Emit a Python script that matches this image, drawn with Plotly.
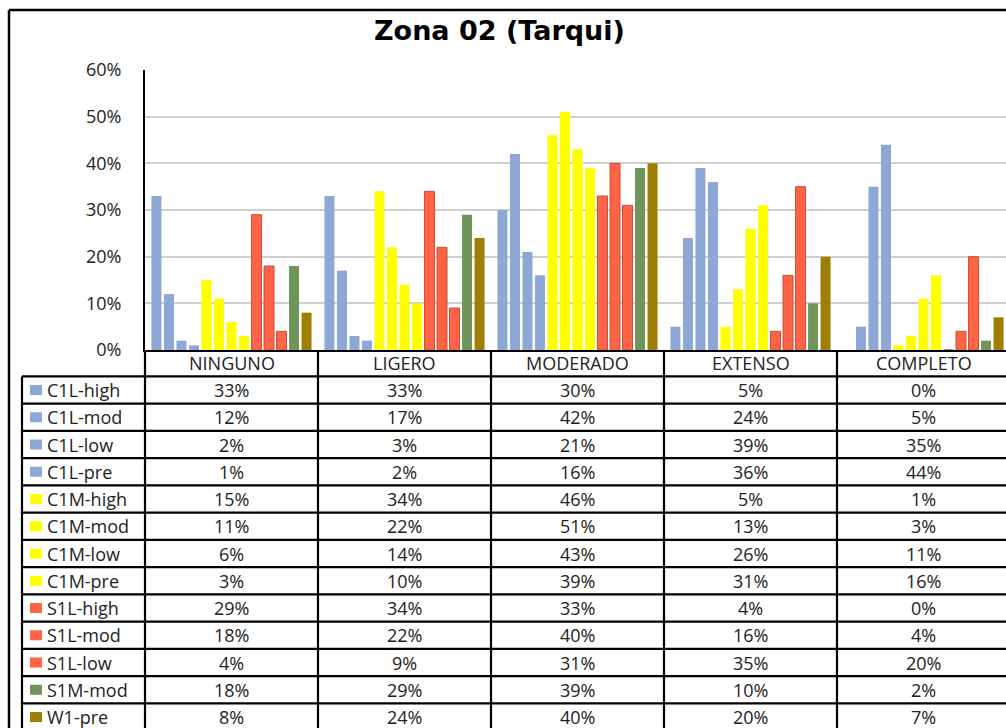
import plotly.graph_objects as go

# ---- data -------------------------------------------------------------
categories = ["NINGUNO", "LIGERO", "MODERADO", "EXTENSO", "COMPLETO"]

c1l_high = [33, 33, 30, 5, 0]
c1l_mod = [12, 17, 42, 24, 5]
c1l_low = [2, 3, 21, 39, 35]
c1l_pre = [1, 2, 16, 36, 44]
c1m_high = [15, 34, 46, 5, 1]
c1m_mod = [11, 22, 51, 13, 3]
c1m_low = [6, 14, 43, 26, 11]
c1m_pre = [3, 10, 39, 31, 16]
s1l_high = [29, 34, 33, 4, 0]
s1l_mod = [18, 22, 40, 16, 4]
s1l_low = [4, 9, 31, 35, 20]
s1m_mod = [18, 29, 39, 10, 2]
w1_pre = [8, 24, 40, 20, 7]

series_names = ["C1L-high", "C1L-mod", "C1L-low", "C1L-pre",
                "C1M-high", "C1M-mod", "C1M-low", "C1M-pre",
                "S1L-high", "S1L-mod", "S1L-low", "S1M-mod", "W1-pre"]
series_values = [c1l_high, c1l_mod, c1l_low, c1l_pre,
                 c1m_high, c1m_mod, c1m_low, c1m_pre,
                 s1l_high, s1l_mod, s1l_low, s1m_mod, w1_pre]

title_text = "Zona 02 (Tarqui)"
y_ticks = [0, 10, 20, 30, 40, 50, 60]

# ---- styling ----------------------------------------------------------
BLUE, YELLOW, RED, GREEN, OLIVE = "#8DA8D4", "#FFFF00", "#FF6446", "#6F955A", "#9E7F00"
family_colors = {"C1L": BLUE, "C1M": YELLOW, "S1L": RED, "S1M": GREEN, "W1": OLIVE}
FONT = "'Open Sans', Lato, sans-serif"
TITLE_FONT = "'DejaVu Sans', 'Open Sans', sans-serif"
TXT = "#222222"
FS = 18

W, H = 1006, 728
AX_LEFT = 145          # y-axis line (px)
PLOT_TOP = 70          # 60% gridline (px)
PLOT_BOTTOM = 350      # 0% baseline (px)
COL_W = 173            # width of one category column (px)
LEG_LEFT = 22          # left edge of the legend column (px)
HEADER_BOTTOM = 376.4
ROW_H = 27.25


def px(x):
    return x / W


def py(y):
    return 1 - y / H


def color_of(name):
    return family_colors[name.split("-")[0]]


fig = go.Figure()
for name, vals in zip(series_names, series_values):
    col = color_of(name)
    fig.add_trace(go.Bar(
        x=categories, y=[v / 100 for v in vals], name=name,
        marker=dict(color=col,
                    line=dict(color="#C9503A" if col == RED else col,
                              width=1 if col == RED else 0)),
        showlegend=False,
    ))

shapes = []
annotations = []
LINE = dict(color="black", width=2.2)

# outer frame of the chart
shapes.append(dict(type="line", xref="paper", yref="paper",
                   x0=px(9), x1=px(W + 20), y0=py(10), y1=py(10),
                   line=dict(color="black", width=2.5)))
shapes.append(dict(type="line", xref="paper", yref="paper",
                   x0=px(9), x1=px(9), y0=py(10), y1=py(H + 20),
                   line=dict(color="black", width=2.5)))

n_rows = len(series_names)
table_bottom = HEADER_BOTTOM + n_rows * ROW_H

# horizontal rules of the data table
for k in range(n_rows + 1):
    yy = HEADER_BOTTOM + k * ROW_H
    shapes.append(dict(type="line", xref="paper", yref="paper",
                       x0=px(LEG_LEFT), x1=px(W + 20), y0=py(yy), y1=py(yy), line=LINE))

# vertical rules: legend column and one per category boundary
shapes.append(dict(type="line", xref="paper", yref="paper",
                   x0=px(LEG_LEFT), x1=px(LEG_LEFT),
                   y0=py(HEADER_BOTTOM), y1=py(table_bottom), line=LINE))
for i in range(len(categories) + 1):
    xx = AX_LEFT + i * COL_W
    shapes.append(dict(type="line", xref="paper", yref="paper",
                       x0=px(xx), x1=px(xx),
                       y0=py(PLOT_BOTTOM), y1=py(table_bottom), line=LINE))

# category header row
for cat in categories:
    annotations.append(dict(x=cat, xref="x", y=py((PLOT_BOTTOM + HEADER_BOTTOM) / 2),
                            yref="paper", text=cat, showarrow=False,
                            xanchor="center", yanchor="middle",
                            font=dict(family=FONT, size=FS, color=TXT)))

# table body: legend key, series name, values
for r, (name, vals) in enumerate(zip(series_names, series_values)):
    yc = HEADER_BOTTOM + (r + 0.5) * ROW_H
    shapes.append(dict(type="rect", xref="paper", yref="paper",
                       x0=px(30), x1=px(42), y0=py(yc - 5), y1=py(yc + 5),
                       fillcolor=color_of(name), line=dict(width=0)))
    annotations.append(dict(x=px(45), xref="paper", y=py(yc), yref="paper",
                            text=name, showarrow=False, xanchor="left", yanchor="middle",
                            font=dict(family=FONT, size=FS, color=TXT)))
    for cat, v in zip(categories, vals):
        annotations.append(dict(x=cat, xref="x", y=py(yc), yref="paper",
                                text=f"{v}%", showarrow=False,
                                xanchor="center", yanchor="middle",
                                font=dict(family=FONT, size=FS, color=TXT)))

# title
annotations.append(dict(x=px(499), xref="paper", y=py(31), yref="paper",
                        text=f"<b>{title_text}</b>", showarrow=False,
                        xanchor="center", yanchor="middle",
                        font=dict(family=TITLE_FONT, size=27, color="black")))

fig.update_layout(
    width=W, height=H, autosize=False,
    margin=dict(l=0, r=0, t=0, b=0, autoexpand=False),
    paper_bgcolor="white", plot_bgcolor="white",
    barmode="group", bargap=0.06, bargroupgap=0.2,
    shapes=shapes, annotations=annotations,
    xaxis=dict(domain=[px(AX_LEFT), 1],
               range=[-0.5, -0.5 + (W - AX_LEFT) / COL_W],
               showticklabels=False, ticks="", showgrid=False, automargin=False,
               showline=True, linecolor="black", linewidth=2, zeroline=False),
    yaxis=dict(domain=[py(PLOT_BOTTOM), py(PLOT_TOP)], range=[0, 0.6],
               tickvals=[t / 100 for t in y_ticks],
               ticktext=[f"{t}%" for t in y_ticks],
               showgrid=True, gridcolor="#CFCFCF", gridwidth=1.5, automargin=False,
               showline=True, linecolor="black", linewidth=2, zeroline=False,
               ticks="", ticklabelstandoff=18,
               tickfont=dict(family=FONT, size=FS, color=TXT)),
)

fig.write_html("out.html")
